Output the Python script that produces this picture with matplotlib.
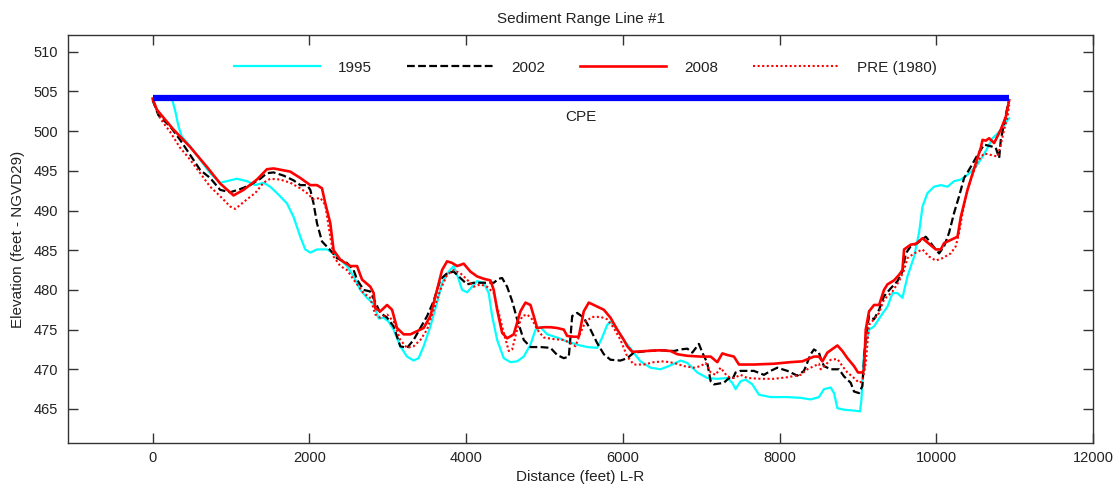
import matplotlib
matplotlib.use('Agg')
import matplotlib.pyplot as plt

plt.rcParams['font.family'] = ['Liberation Sans', 'DejaVu Sans']

# Survey data (distance in feet, elevation in feet NGVD29)
dist_1995 = [245, 287, 330, 373, 479, 607, 734, 862, 990, 1075,
             1203, 1309, 1415, 1500, 1586, 1714, 1798, 1884, 1947, 2012,
             2097, 2225, 2309, 2395, 2480, 2564, 2650, 2735, 2820, 2884,
             2948, 3011, 3075, 3160, 3246, 3330, 3394, 3458, 3544, 3629,
             3693, 3778, 3841, 3892, 3949, 4012, 4076, 4140, 4224, 4288,
             4332, 4396, 4480, 4565, 4651, 4735, 4821, 4885, 4949, 5034,
             5162, 5289, 5417, 5545, 5672, 5736, 5800, 5842, 5928, 6012,
             6098, 6225, 6353, 6481, 6609, 6737, 6822, 6950, 7077, 7205,
             7333, 7396, 7438, 7502, 7566, 7652, 7736, 7885, 8099, 8269,
             8396, 8502, 8566, 8652, 8694, 8737, 8822, 8949, 9026, 9044,
             9077, 9141, 9205, 9290, 9376, 9440, 9503, 9567, 9631, 9716,
             9779, 9823, 9887, 9971, 10056, 10142, 10226, 10312, 10397, 10503,
             10589, 10653, 10716, 10780, 10844, 10908, 10929]
elev_1995 = [504.1, 502.6, 500.6, 499.3, 498.1, 496.4, 494.7, 493.5, 493.8, 494.0,
             493.7, 493.2, 493.5, 493.0, 492.2, 490.9, 489.2, 486.7, 485.1, 484.7,
             485.1, 485.1, 484.6, 483.8, 483.0, 481.7, 480.0, 479.0, 478.2, 476.4,
             476.5, 476.0, 475.0, 472.9, 471.6, 471.1, 471.4, 472.9, 475.4, 478.4,
             480.9, 482.3, 483.0, 481.7, 480.0, 479.7, 480.4, 481.1, 480.9, 479.6,
             476.7, 473.7, 471.4, 470.9, 471.0, 471.6, 473.1, 475.0, 475.3, 474.4,
             474.0, 473.5, 473.1, 472.8, 472.7, 474.0, 475.6, 476.0, 475.0, 473.7,
             472.6, 471.0, 470.2, 470.0, 470.5, 471.1, 470.8, 469.6, 468.9, 468.8,
             468.9, 468.3, 467.5, 468.5, 468.7, 468.1, 466.8, 466.5, 466.5, 466.4,
             466.2, 466.5, 467.5, 467.7, 467.0, 465.1, 464.9, 464.8, 464.7, 466.2,
             472.1, 475.0, 475.4, 476.7, 477.9, 479.6, 479.6, 479.0, 481.7, 484.2,
             487.2, 490.5, 492.2, 493.0, 493.2, 493.0, 493.7, 493.9, 494.5, 495.5,
             496.8, 497.9, 499.1, 499.7, 500.4, 501.4, 501.6]

dist_2002 = [0, 74, 223, 351, 479, 607, 734, 862, 990, 1117,
             1245, 1373, 1458, 1543, 1670, 1798, 1884, 1969, 2012, 2053,
             2097, 2161, 2267, 2352, 2480, 2564, 2608, 2692, 2777, 2820,
             2905, 2991, 3075, 3160, 3246, 3330, 3416, 3502, 3586, 3671,
             3757, 3841, 3927, 4012, 4097, 4224, 4352, 4416, 4459, 4523,
             4587, 4651, 4735, 4821, 4949, 5076, 5162, 5246, 5310, 5332,
             5353, 5417, 5501, 5587, 5672, 5757, 5842, 5970, 6056, 6140,
             6311, 6481, 6651, 6737, 6822, 6886, 6970, 7014, 7077, 7120,
             7162, 7289, 7353, 7396, 7438, 7502, 7672, 7800, 7885, 7971,
             8099, 8226, 8311, 8396, 8438, 8502, 8524, 8566, 8652, 8758,
             8822, 8907, 8949, 9013, 9056, 9077, 9099, 9141, 9205, 9269,
             9332, 9418, 9503, 9567, 9610, 9673, 9759, 9865, 9929, 9992,
             10035, 10099, 10162, 10226, 10290, 10354, 10439, 10525, 10609, 10694,
             10758, 10801, 10822, 10865, 10908, 10929]
elev_2002 = [503.9, 502.0, 500.6, 498.9, 497.0, 495.1, 494.1, 492.6, 492.3, 492.7,
             493.2, 494.0, 494.7, 494.8, 494.4, 493.8, 493.2, 493.2, 492.6, 490.9,
             488.4, 486.1, 485.0, 484.0, 483.4, 482.5, 481.3, 480.0, 479.8, 478.9,
             477.1, 476.5, 475.4, 472.9, 472.7, 473.7, 475.2, 476.7, 478.6, 481.3,
             482.1, 482.3, 481.5, 480.7, 480.9, 480.9, 480.9, 481.4, 481.5, 480.4,
             478.6, 476.3, 473.7, 472.8, 472.8, 472.7, 471.8, 471.4, 471.6, 474.1,
             476.7, 477.1, 476.5, 475.0, 473.3, 471.9, 471.2, 471.1, 471.4, 472.1,
             472.3, 472.4, 472.3, 472.5, 472.6, 472.1, 473.2, 472.1, 470.8, 468.5,
             468.1, 468.3, 468.9, 468.7, 469.6, 469.8, 469.8, 469.3, 469.8, 470.2,
             469.8, 469.2, 469.8, 471.9, 472.5, 472.1, 471.4, 470.4, 470.0, 470.0,
             469.1, 468.3, 467.2, 467.0, 467.9, 471.2, 474.1, 476.7, 476.3, 477.5,
             479.2, 480.2, 481.1, 482.3, 484.6, 485.5, 485.9, 486.7, 485.9, 485.1,
             484.6, 485.5, 487.2, 489.7, 491.8, 494.1, 495.5, 497.0, 498.3, 498.1,
             497.9, 496.6, 498.9, 501.0, 503.1, 503.9]

dist_2008 = [0, 54, 266, 479, 692, 862, 1032, 1160, 1331, 1458,
             1543, 1756, 1884, 2012, 2097, 2161, 2203, 2267, 2309, 2395,
             2522, 2608, 2672, 2778, 2820, 2841, 2905, 2991, 3055, 3118,
             3203, 3289, 3374, 3458, 3544, 3629, 3693, 3757, 3821, 3885,
             3969, 4055, 4140, 4224, 4310, 4352, 4396, 4459, 4523, 4607,
             4693, 4757, 4821, 4863, 4906, 4991, 5076, 5162, 5246, 5289,
             5374, 5437, 5501, 5565, 5672, 5757, 5842, 5928, 6012, 6056,
             6119, 6311, 6481, 6609, 6694, 6822, 6992, 7120, 7205, 7269,
             7333, 7417, 7481, 7672, 7928, 8141, 8290, 8438, 8502, 8546,
             8609, 8737, 8801, 8865, 8949, 9000, 9056, 9077, 9099, 9141,
             9205, 9269, 9332, 9376, 9460, 9524, 9567, 9588, 9673, 9737,
             9823, 9907, 9992, 10056, 10099, 10184, 10270, 10312, 10397, 10482,
             10567, 10589, 10631, 10673, 10737, 10822, 10886, 10929]
elev_2008 = [504.1, 502.7, 500.2, 498.0, 495.5, 493.4, 491.9, 492.6, 493.9, 495.2,
             495.3, 494.9, 494.1, 493.2, 493.2, 492.8, 490.9, 488.4, 485.0, 483.8,
             483.0, 483.0, 481.3, 480.4, 479.6, 477.7, 477.3, 478.1, 477.5, 475.2,
             474.4, 474.4, 474.8, 475.2, 476.7, 480.0, 482.5, 483.6, 483.4, 483.0,
             483.3, 482.3, 481.7, 481.4, 481.2, 480.0, 477.5, 474.6, 473.9, 474.4,
             477.3, 478.4, 478.1, 476.7, 475.2, 475.3, 475.3, 475.2, 475.0, 474.2,
             474.1, 474.1, 477.3, 478.4, 477.9, 477.5, 476.5, 475.0, 473.7, 472.9,
             472.2, 472.3, 472.4, 472.3, 471.9, 471.7, 471.6, 471.6, 470.9, 472.0,
             471.8, 471.6, 470.6, 470.6, 470.7, 470.9, 471.0, 471.6, 471.6, 471.0,
             472.1, 473.0, 472.3, 471.4, 470.4, 469.6, 469.6, 470.0, 475.0, 477.3,
             478.1, 478.1, 480.0, 480.7, 481.2, 481.9, 482.5, 485.1, 485.7, 485.8,
             486.5, 485.8, 485.1, 485.1, 485.9, 486.3, 486.7, 489.2, 492.6, 495.3,
             497.9, 498.9, 498.8, 499.1, 498.5, 500.2, 501.8, 503.9]

dist_pre = [0, 96, 223, 351, 479, 607, 734, 862, 990, 1054,
            1117, 1203, 1309, 1415, 1500, 1628, 1756, 1884, 1969, 2053,
            2139, 2203, 2245, 2309, 2395, 2480, 2564, 2692, 2777, 2841,
            2905, 2991, 3075, 3160, 3246, 3330, 3416, 3502, 3586, 3671,
            3757, 3841, 3927, 4012, 4097, 4182, 4268, 4352, 4416, 4480,
            4544, 4587, 4651, 4715, 4779, 4842, 4906, 4991, 5118, 5246,
            5332, 5395, 5459, 5523, 5609, 5715, 5800, 5884, 5970, 6056,
            6140, 6268, 6395, 6523, 6651, 6778, 6906, 6992, 7055, 7120,
            7183, 7247, 7333, 7417, 7502, 7588, 7758, 7928, 8099, 8269,
            8354, 8438, 8502, 8524, 8566, 8652, 8737, 8801, 8865, 8949,
            9013, 9056, 9099, 9141, 9205, 9269, 9332, 9440, 9524, 9588,
            9631, 9716, 9823, 9907, 9992, 10078, 10184, 10248, 10290, 10334,
            10397, 10461, 10525, 10609, 10694, 10780, 10822, 10865, 10908, 10929]
elev_pre = [504.0, 501.6, 499.9, 497.9, 496.4, 494.7, 493.0, 491.8, 490.5, 490.2,
            490.7, 491.4, 492.2, 493.5, 494.0, 493.9, 493.5, 492.8, 492.2, 491.4,
            491.6, 490.7, 488.0, 484.2, 483.0, 482.5, 481.3, 479.6, 479.0, 476.9,
            476.5, 476.9, 476.0, 473.7, 472.7, 472.9, 473.7, 475.0, 477.5, 480.0,
            481.9, 482.5, 482.1, 481.3, 480.4, 480.7, 480.4, 479.6, 477.1, 474.6,
            472.3, 472.5, 475.0, 476.7, 476.9, 476.3, 475.0, 474.0, 473.8, 473.7,
            473.3, 472.9, 474.6, 476.0, 476.6, 476.6, 476.3, 475.2, 473.7, 471.6,
            470.6, 470.6, 470.9, 471.0, 470.8, 470.4, 470.2, 470.4, 470.8, 469.6,
            469.3, 470.2, 469.1, 468.9, 469.3, 468.9, 468.8, 468.8, 469.0, 469.3,
            470.0, 470.4, 470.7, 470.0, 470.4, 471.2, 471.3, 470.4, 469.6, 468.9,
            468.3, 468.5, 470.8, 475.6, 476.3, 477.1, 478.8, 479.8, 481.1, 482.5,
            484.0, 484.6, 485.1, 484.2, 483.7, 484.0, 484.6, 485.5, 487.2, 489.7,
            492.6, 494.5, 496.2, 497.2, 497.0, 496.8, 498.3, 500.2, 501.8, 503.3]

cpe_dist = [0, 10929]
cpe_elev = [504.2, 504.2]

fig = plt.figure(figsize=(11.2, 4.94), dpi=100)
ax = fig.add_axes([0.0607, 0.103, 0.9153, 0.826])

ax.plot(dist_1995, elev_1995, color='#00ffff', lw=1.6, label='1995')
ax.plot(dist_2002, elev_2002, color='black', lw=1.6, linestyle=(0, (3.5, 1.5)), label='2002')
ax.plot(dist_2008, elev_2008, color='#ff0000', lw=1.9, label='2008')
ax.plot(dist_pre, elev_pre, color='#ff0000', lw=1.5, linestyle=(0, (1, 1.2)), label='PRE (1980)')
ax.plot(cpe_dist, cpe_elev, color='#0000ff', lw=4.5, solid_capstyle='butt', zorder=5)
ax.text(sum(cpe_dist) / 2, cpe_elev[0] - 1.5, 'CPE', ha='center', va='top', fontsize=11, color='#222222')

ax.set_xlim(-1080, 12000)
ax.set_ylim(460.7, 512.1)
ax.set_xticks(range(0, 12001, 2000))
ax.set_yticks(range(465, 511, 5))

ax.tick_params(direction='in', length=7, width=1, colors='#333333', labelcolor='#222222',
               top=True, right=True, labelsize=10.5)
ax.tick_params(axis='x', pad=6)
ax.tick_params(axis='y', pad=7)
for sp in ax.spines.values():
    sp.set_color('#333333')
    sp.set_linewidth(1)

ax.set_title('Sediment Range Line #1', fontsize=11, color='#222222', pad=9)
ax.set_xlabel('Distance (feet) L-R', fontsize=11, color='#222222', labelpad=3)
ax.set_ylabel('Elevation (feet - NGVD29)', fontsize=11, color='#222222', labelpad=6)

leg = ax.legend(loc='center', bbox_to_anchor=(0.505, 0.92), ncol=4, frameon=False,
                fontsize=11, handlelength=5.6, handletextpad=1.2, columnspacing=2.3)
for t in leg.get_texts():
    t.set_color('#222222')

fig.savefig('out.png', dpi=100)
